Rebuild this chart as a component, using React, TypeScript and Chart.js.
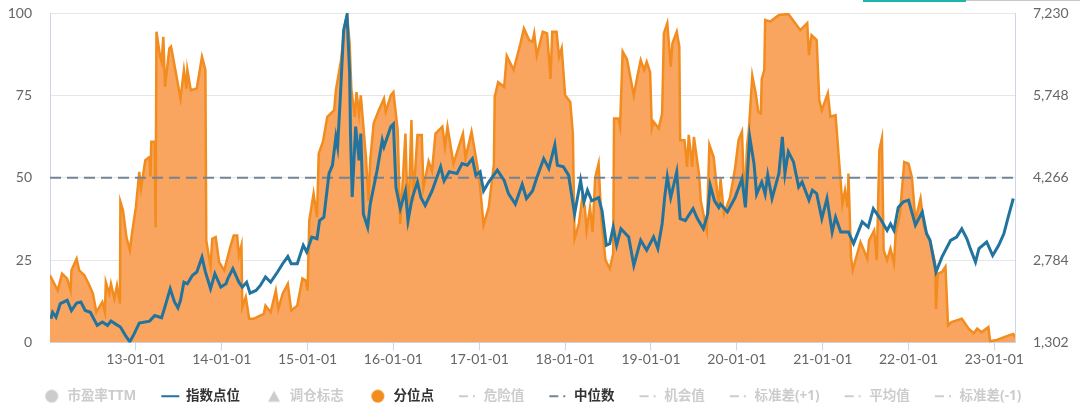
import { useEffect, useRef } from 'react'
import Chart from 'chart.js/auto'

// x values are fractional years, e.g. 13.5 is mid 2013
const percentileDates = [
  12.0, 12.05, 12.09, 12.14, 12.2, 12.24, 12.25, 12.31, 12.34, 12.4, 12.45, 12.5, 12.54, 12.61, 12.64, 12.65, 12.69, 12.71, 12.75, 12.78, 12.815, 12.82, 12.85, 12.89, 12.93, 12.96,
  13.0, 13.04, 13.06, 13.11, 13.16, 13.17, 13.18, 13.22, 13.23, 13.24, 13.28, 13.3, 13.32, 13.34, 13.39, 13.41, 13.46, 13.52, 13.56, 13.59, 13.6, 13.64, 13.71, 13.77, 13.81, 13.82, 13.87, 13.89, 13.93, 13.97,
  14.03, 14.1, 14.14, 14.18, 14.2, 14.23, 14.24, 14.28, 14.32, 14.37, 14.49, 14.51, 14.57, 14.63, 14.66, 14.71, 14.77, 14.81, 14.88, 14.94, 14.98,
  15.0, 15.02, 15.07, 15.11, 15.13, 15.18, 15.23, 15.31, 15.33, 15.39, 15.43, 15.46, 15.49, 15.51, 15.55, 15.57, 15.6, 15.62, 15.68, 15.71, 15.73, 15.77, 15.83, 15.89, 15.91, 15.97,
  16.0, 16.05, 16.08, 16.14, 16.17, 16.21, 16.23, 16.28, 16.33, 16.35, 16.41, 16.45, 16.49, 16.57, 16.6, 16.63, 16.7, 16.76, 16.81, 16.84, 16.91, 16.96,
  17.0, 17.05, 17.11, 17.17, 17.18, 17.22, 17.29, 17.32, 17.4, 17.48, 17.52, 17.58, 17.62, 17.64, 17.67, 17.74, 17.79, 17.83, 17.85, 17.9, 17.93, 17.96,
  18.0, 18.06, 18.09, 18.11, 18.16, 18.2, 18.23, 18.25, 18.29, 18.32, 18.35, 18.39, 18.42, 18.47, 18.52, 18.56, 18.57, 18.62, 18.64, 18.67, 18.72, 18.8, 18.84, 18.88, 18.92, 18.95, 18.99,
  19.01, 19.03, 19.09, 19.13, 19.15, 19.19, 19.23, 19.25, 19.3, 19.33, 19.34, 19.39, 19.42, 19.44, 19.48, 19.5, 19.56, 19.58, 19.65, 19.68, 19.73, 19.79, 19.81, 19.85, 19.92, 19.98,
  20.02, 20.06, 20.09, 20.12, 20.14, 20.18, 20.22, 20.25, 20.28, 20.29, 20.32, 20.33, 20.39, 20.49, 20.6, 20.68, 20.74, 20.82, 20.84, 20.87, 20.93, 20.96, 20.99,
  21.06, 21.09, 21.15, 21.19, 21.23, 21.26, 21.29, 21.3, 21.33, 21.35, 21.44, 21.52, 21.54, 21.6, 21.63, 21.66, 21.69, 21.71, 21.75, 21.79, 21.83, 21.85, 21.9, 21.95,
  22.0, 22.04, 22.08, 22.14, 22.18, 22.25, 22.31, 22.32, 22.34, 22.39, 22.43, 22.46, 22.5, 22.62, 22.7, 22.76, 22.8, 22.85, 22.93, 22.95,
  23.03, 23.16, 23.22, 23.24,
]
const percentileValues = [
  20.4, 17.8, 15.8, 20.9, 19.4, 15.8, 21.9, 25.4, 21.9, 20.4, 17.8, 14.8, 9.2, 12.3, 9.2, 18.3, 14.8, 17.8, 13.3, 17.3, 11.8, 42.7, 40.1, 32, 28, 34,
  41, 51.8, 46.7, 55.3, 56.3, 50.3, 60.9, 60.9, 35, 94.3, 87.2, 85.2, 92.8, 77.6, 89.3, 89.8, 82.7, 74, 82.7, 77, 82.7, 76.6, 77.1, 86.7, 82.7, 31, 23, 31.5, 32, 24.4,
  21.9, 29, 32.5, 32.5, 26.4, 29.5, 10.7, 13.8, 7.2, 7.2, 8.7, 11.2, 9.2, 15.8, 10.2, 14.8, 17.8, 9.7, 11.2, 19.4, 18.8,
  15.8, 37, 45.2, 38, 57.3, 61, 68.5, 70.5, 76.6, 85.7, 95.8, 99.4, 90.8, 77, 68.5, 76, 69.5, 75, 56.3, 43, 55.3, 66.5, 70.5, 74, 70, 75,
  76, 64.4, 36, 63.4, 35, 67.5, 43, 63, 63, 47, 55, 52, 63.4, 65.5, 59.4, 65.5, 54.3, 59.4, 63.4, 56, 64, 56.3,
  50, 35.6, 41, 54, 74.6, 79, 77.6, 87, 82.7, 90.8, 95.3, 91.8, 91.3, 93.8, 87, 94.3, 93.8, 80, 94.3, 94.3, 86.7, 89.3,
  75, 73, 63.4, 31.5, 36, 44, 41, 34, 41, 33.5, 50, 54.3, 38, 25, 22.4, 27, 68, 68, 65.5, 88.3, 86, 75, 80.6, 85.7, 82.7, 85.2, 82,
  65, 67, 65, 69.5, 93.8, 96.9, 83.7, 90.8, 94.3, 89.8, 61.4, 61.4, 53.3, 63, 53.3, 62.4, 51, 43, 34, 60, 56.3, 41, 49.7, 39, 44, 53,
  61.4, 64, 42, 60, 64.4, 81, 75.6, 70, 69.5, 80, 82.7, 97.9, 97.4, 99.4, 99.7, 96.9, 94.8, 96.9, 87.2, 93.3, 91.8, 73.6, 70.5,
  75.6, 68.5, 69, 55.3, 42, 46.2, 41, 51.3, 26, 22, 30.5, 25.4, 31, 34, 25, 58.4, 62, 28, 25, 28.5, 24, 33, 39, 54.8,
  54.3, 50, 37, 43.7, 35, 31, 24, 10.2, 20.9, 21.4, 23, 5.2, 6.2, 7.2, 4.2, 2.8, 4.2, 3.1, 4.7, 0.4,
  0.8, 2.1, 2.6, 1.6,
]

const indexDates = [
  12.01, 12.03, 12.07, 12.12, 12.2, 12.25, 12.31, 12.36, 12.41, 12.47, 12.55, 12.61, 12.67, 12.71, 12.77, 12.82, 12.88, 12.93, 12.98,
  13.04, 13.16, 13.22, 13.3, 13.35, 13.4, 13.45, 13.49, 13.52, 13.56, 13.6, 13.66, 13.71, 13.77, 13.81, 13.87, 13.92, 13.99,
  14.05, 14.07, 14.13, 14.2, 14.24, 14.29, 14.33, 14.4, 14.45, 14.51, 14.57, 14.65, 14.71, 14.77, 14.81, 14.88, 14.95, 14.99,
  15.05, 15.11, 15.14, 15.19, 15.25, 15.29, 15.33, 15.35, 15.38, 15.42, 15.46, 15.49, 15.5, 15.52, 15.56, 15.6, 15.62, 15.65, 15.7, 15.73, 15.81, 15.87, 15.89, 15.97,
  16.0, 16.03, 16.08, 16.14, 16.17, 16.22, 16.28, 16.32, 16.37, 16.45, 16.55, 16.59, 16.65, 16.74, 16.8, 16.86, 16.92, 16.96,
  17.01, 17.05, 17.11, 17.21, 17.29, 17.34, 17.42, 17.5, 17.55, 17.62, 17.67, 17.75, 17.81, 17.88, 17.91, 17.98,
  18.04, 18.11, 18.18, 18.22, 18.26, 18.31, 18.39, 18.43, 18.48, 18.52, 18.56, 18.6, 18.65, 18.74, 18.8, 18.88, 18.95,
  19.03, 19.08, 19.13, 19.16, 19.19, 19.23, 19.3, 19.34, 19.4, 19.49, 19.54, 19.61, 19.66, 19.69, 19.74, 19.79, 19.81, 19.89, 19.98,
  20.06, 20.1, 20.15, 20.2, 20.23, 20.29, 20.33, 20.36, 20.41, 20.49, 20.53, 20.56, 20.6, 20.66, 20.72, 20.76, 20.84, 20.88, 20.93, 20.99,
  21.05, 21.11, 21.15, 21.21, 21.3, 21.36, 21.46, 21.53, 21.59, 21.67, 21.75, 21.79, 21.83, 21.88, 21.94,
  22.0, 22.08, 22.16, 22.21, 22.25, 22.32, 22.39, 22.49, 22.56, 22.62, 22.68, 22.72, 22.78, 22.82, 22.91, 22.98,
  23.05, 23.11, 23.16, 23.22,
]
const indexValues = [
  1729, 1847, 1758, 2001, 2061, 1877, 2013, 2031, 1877, 1847, 1610, 1670, 1610, 1687, 1628, 1581, 1426, 1314, 1456,
  1652, 1687, 1788, 1747, 2001, 2268, 2031, 1924, 2061, 2387, 2357, 2511, 2571, 2837, 2571, 2268, 2541, 2298,
  2357, 2446, 2630, 2387, 2298, 2387, 2191, 2239, 2328, 2482, 2387, 2571, 2719, 2849, 2719, 2719, 3051, 2932,
  3199, 3169, 3495, 3555, 4343, 4491, 5001, 4823, 5665, 6922, 7195, 6145, 5060, 3922, 5185, 4580, 5060, 3614, 3377, 3792, 4402, 4942, 4823, 5185,
  5232, 4088, 3709, 4029, 3495, 3910, 4189, 3910, 3768, 4029, 4462, 4207, 4373, 4343, 4521, 4491, 4610, 4313,
  4373, 4029, 4189, 4402, 4219, 3981, 3792, 4147, 3893, 4029, 4266, 4610, 4432, 4859, 4491, 4462,
  4313, 3614, 4219, 3833, 4041, 3851, 3910, 3673, 3051, 3080, 3377, 3051, 3347, 3199, 2689, 3140, 2962,
  3199, 2991, 3436, 3922, 4284, 3910, 4373, 3531, 3495, 3709, 3531, 3347, 3614, 4130, 3851, 3732, 3792, 3650, 3910,
  4248, 3732, 5001, 4521, 3970, 4189, 3970, 4313, 3893, 4343, 5001, 4343, 4734, 4551, 4100, 4189, 3863, 4041, 3981, 3531,
  3893, 3288, 3555, 3288, 3288, 3080, 3472, 3377, 3709, 3531, 3318, 3436, 3318, 3732, 3833,
  3863, 3412, 3650, 3258, 3140, 2571, 2843, 3140, 3199, 3347, 3169, 2991, 2748, 2991, 3110, 2867,
  3051, 3258, 3555, 3893,
]

const medianValue = 50
const xTicks = [13, 14, 15, 16, 17, 18, 19, 20, 21, 22, 23]
const leftTicks = [0, 25, 50, 75, 100]
const rightTicks = [1302, 2784, 4266, 5748, 7230]

const ORANGE = '#f28c1e'
const FILL = '#f9a55f'
const BLUE = '#22749f'
const DASH = '#738496'
const MUTED = '#cccccc'
const AXIS = '#ccd6eb'
const TICK_TEXT = '#666666'
const FONT = 'Lato, "Noto Sans CJK SC", sans-serif'
const LEGEND_FONT = '"Open Sans", "Noto Sans CJK SC", sans-serif'

// legend glyphs, drawn once on small canvases
function legendIcon(kind: string, color: string) {
  const c = document.createElement('canvas')
  c.width = 20
  c.height = 14
  const ctx = c.getContext('2d')!
  ctx.fillStyle = color
  if (kind === 'circle') {
    ctx.beginPath()
    ctx.arc(10, 7, 6.5, 0, Math.PI * 2)
    ctx.fill()
  } else if (kind === 'triangle') {
    ctx.beginPath()
    ctx.moveTo(10, 1.5)
    ctx.lineTo(16, 12.5)
    ctx.lineTo(4, 12.5)
    ctx.fill()
  } else if (kind === 'line') {
    ctx.fillRect(1, 6, 18, 2)
  } else {
    ctx.fillRect(1, 6, 9, 2)
    ctx.fillRect(15, 6, 2, 2)
  }
  return c
}

const legendItems = [
  { text: '市盈率TTM', kind: 'circle', color: MUTED, on: false },
  { text: '指数点位', kind: 'line', color: BLUE, on: true },
  { text: '调仓标志', kind: 'triangle', color: MUTED, on: false },
  { text: '分位点', kind: 'circle', color: ORANGE, on: true },
  { text: '危险值', kind: 'dash', color: MUTED, on: false },
  { text: '中位数', kind: 'dash', color: DASH, on: true },
  { text: '机会值', kind: 'dash', color: MUTED, on: false },
  { text: '标准差(+1)', kind: 'dash', color: MUTED, on: false },
  { text: '平均值', kind: 'dash', color: MUTED, on: false },
  { text: '标准差(-1)', kind: 'dash', color: MUTED, on: false },
]

// legend sits a little left of centre in the original
const nudgeLegend = {
  id: 'nudgeLegend',
  afterLayout(chart: any) {
    chart.legend.left -= 8
    chart.legend.right -= 8
  },
}

export default function App() {
  const chartRef = useRef<HTMLCanvasElement>(null)

  useEffect(() => {
    if (!chartRef.current) return

    const xMin = percentileDates[0]
    const xMax = percentileDates[percentileDates.length - 1]

    const chart = new Chart(chartRef.current, {
      type: 'line',
      plugins: [nudgeLegend],
      data: {
        datasets: [
          {
            label: '分位点',
            data: percentileDates.map((x, i) => ({ x, y: percentileValues[i] })),
            borderColor: ORANGE,
            backgroundColor: FILL,
            borderWidth: 2.5,
            fill: 'origin',
            pointRadius: 0,
            tension: 0,
            yAxisID: 'y',
            order: 3,
          },
          {
            label: '中位数',
            data: [{ x: xMin, y: medianValue }, { x: xMax, y: medianValue }],
            borderColor: DASH,
            borderWidth: 2,
            borderDash: [11, 6],
            pointRadius: 0,
            yAxisID: 'y',
            order: 2,
          },
          {
            label: '指数点位',
            data: indexDates.map((x, i) => ({ x, y: indexValues[i] })),
            borderColor: BLUE,
            borderWidth: 3,
            pointRadius: 0,
            tension: 0,
            yAxisID: 'y1',
            order: 1,
          },
        ],
      },
      options: {
        animation: false,
        responsive: false,
        layout: { padding: { top: 13, bottom: 5 } },
        scales: {
          x: {
            type: 'linear',
            min: xMin,
            max: xMax,
            afterBuildTicks: (scale: any) => {
              scale.ticks = xTicks.map(value => ({ value }))
            },
            afterFit: (scale: any) => {
              scale.height = 22
            },
            ticks: {
              color: TICK_TEXT,
              font: { family: FONT, size: 14 },
              maxRotation: 0,
              autoSkip: false,
              padding: 1,
              callback: value => `${value}-01-01`,
            },
            grid: { drawOnChartArea: false, color: AXIS, tickLength: 8 },
            border: { color: AXIS },
          },
          y: {
            position: 'left',
            min: 0,
            max: 100,
            afterBuildTicks: (scale: any) => {
              scale.ticks = leftTicks.map(value => ({ value }))
            },
            afterFit: (scale: any) => {
              scale.width = 50
            },
            ticks: {
              color: TICK_TEXT,
              font: { family: FONT, size: 14 },
              padding: 0,
            },
            // ticks.padding also pushes the plot down, so the label gap comes from an invisible tick
            grid: { color: '#e6e6e6', tickLength: 18, tickColor: 'transparent' },
            border: { color: AXIS },
          },
          y1: {
            position: 'right',
            min: 1302,
            max: 7230,
            afterBuildTicks: (scale: any) => {
              scale.ticks = rightTicks.map(value => ({ value }))
            },
            afterFit: (scale: any) => {
              scale.width = 65
            },
            ticks: {
              color: TICK_TEXT,
              font: { family: FONT, size: 14 },
              padding: 0,
              callback: value => Number(value).toLocaleString('en-US'),
            },
            grid: { drawOnChartArea: false, tickLength: 18, tickColor: 'transparent' },
            border: { color: AXIS },
          },
        },
        plugins: {
          tooltip: { enabled: false },
          legend: {
            position: 'bottom',
            onClick: () => {},
            labels: {
              usePointStyle: true,
              pointStyleWidth: 18,
              padding: 25,
              font: { family: LEGEND_FONT, size: 13.5, weight: 'bold' },
              generateLabels: () =>
                legendItems.map(item => ({
                  text: item.text,
                  fontColor: item.on ? '#333333' : MUTED,
                  pointStyle: legendIcon(item.kind, item.color),
                  hidden: false,
                  lineWidth: 0,
                  strokeStyle: 'transparent',
                  fillStyle: item.color,
                })),
            },
          },
        },
      },
    })

    return () => {
      chart.destroy()
    }
  }, [])

  return (
    <div style={{ position: 'fixed', left: 0, top: 0, width: 1080, height: 418, background: '#fff' }}>
      <div style={{ position: 'absolute', left: 863, top: 0, width: 103, height: 2, background: '#1fb3ad' }} />
      <div style={{ position: 'absolute', left: 966, top: 0, width: 114, height: 1, background: '#c8c8c8' }} />
      <canvas ref={chartRef} width={1080} height={418} style={{ display: 'block' }} />
    </div>
  )
}
